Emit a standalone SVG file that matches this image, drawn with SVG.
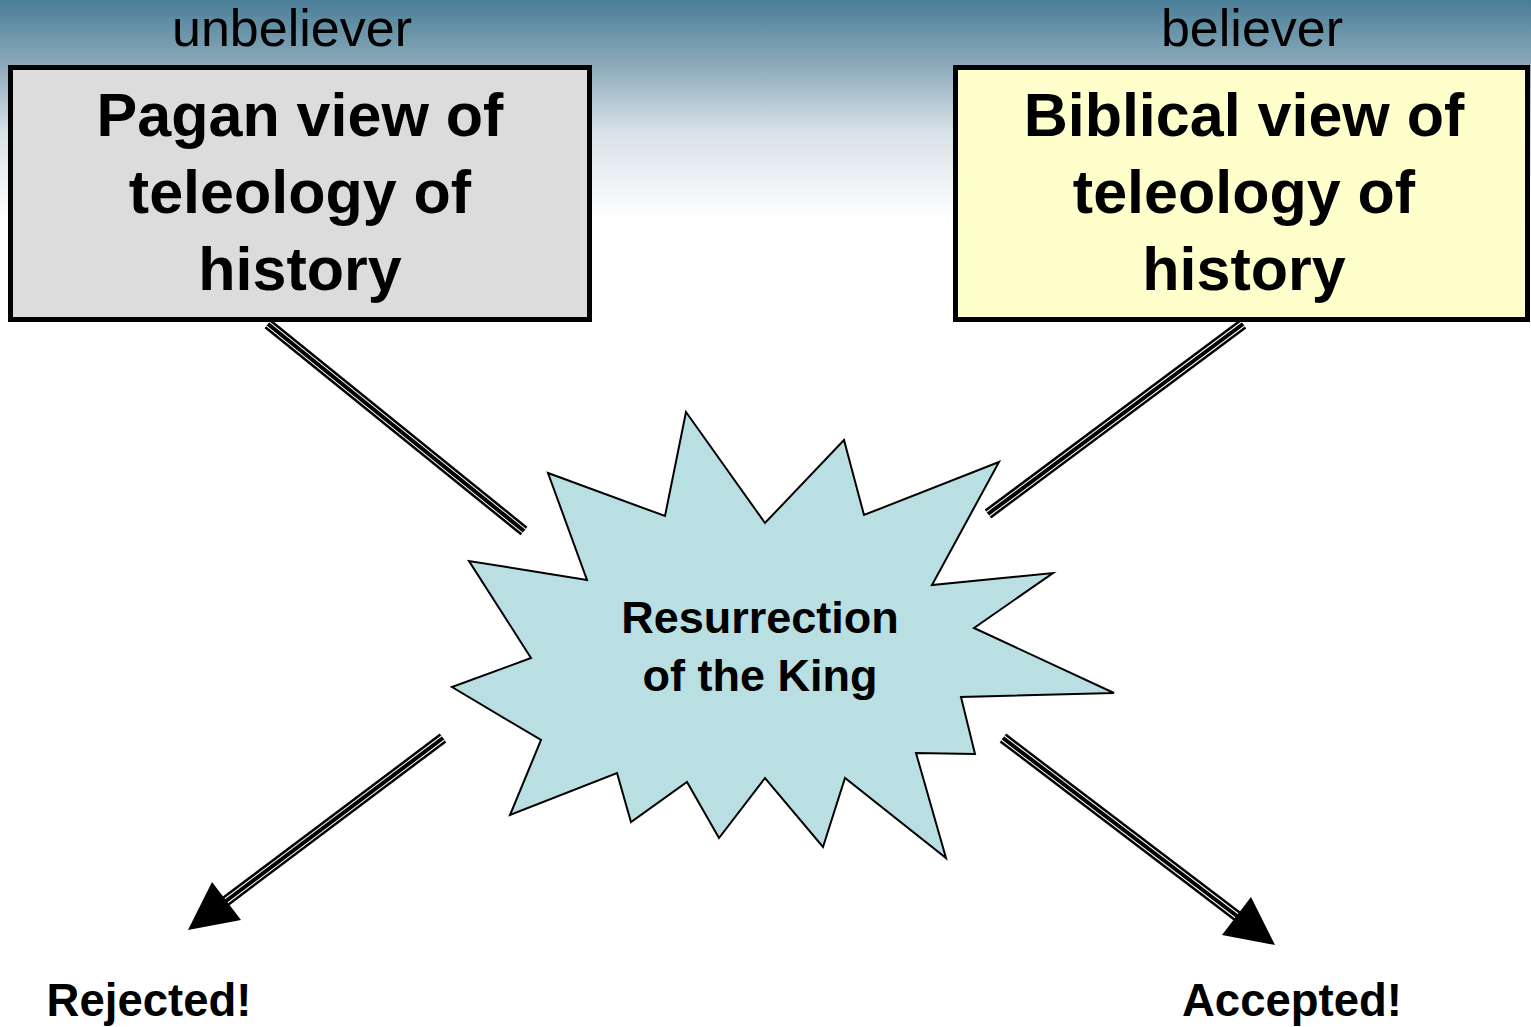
<svg xmlns="http://www.w3.org/2000/svg" width="1531" height="1027" viewBox="0 0 1531 1027">
<style>
.box{stroke:#000;stroke-width:5}
.big{font-family:"Liberation Sans",Arial,sans-serif;font-weight:bold;font-size:61px;text-anchor:middle;fill:#000}
.lbl{font-family:"Liberation Sans",Arial,sans-serif;font-size:52px;text-anchor:middle;fill:#000}
.mid{font-family:"Liberation Sans",Arial,sans-serif;font-weight:bold;font-size:45px;text-anchor:middle;fill:#000}
.out{font-family:"Liberation Sans",Arial,sans-serif;font-weight:bold;font-size:45.5px;text-anchor:middle;fill:#000}
.o{stroke:#000;stroke-width:11}
.g{stroke:#fff;stroke-width:6}
.c{stroke:#000;stroke-width:4}
</style>
<defs>
<linearGradient id="sky" x1="0" y1="0" x2="0" y2="1">
<stop offset="0" stop-color="#497e97"/>
<stop offset="0.3" stop-color="#8eabbb"/>
<stop offset="0.6" stop-color="#d8e2e8"/>
<stop offset="1" stop-color="#ffffff"/>
</linearGradient>
</defs>
<rect x="0" y="0" width="1531" height="1027" fill="#fff"/>
<rect x="0" y="0" width="1531" height="220" fill="url(#sky)"/>
<g id="connectors">
<g id="c1"><line class="o" x1="268" y1="324" x2="524" y2="531"/><line class="g" x1="268" y1="324" x2="524" y2="531"/><line class="c" x1="268" y1="324" x2="524" y2="531"/></g>
<g id="c2"><line class="o" x1="1243" y1="324" x2="988" y2="514"/><line class="g" x1="1243" y1="324" x2="988" y2="514"/><line class="c" x1="1243" y1="324" x2="988" y2="514"/></g>
<g id="c3"><line class="o" x1="443" y1="738" x2="226" y2="901"/><line class="g" x1="443" y1="738" x2="226" y2="901"/><line class="c" x1="443" y1="738" x2="226" y2="901"/><polygon points="188,930 212,882 241,920" fill="#000"/></g>
<g id="c4"><line class="o" x1="1003" y1="738" x2="1237" y2="916"/><line class="g" x1="1003" y1="738" x2="1237" y2="916"/><line class="c" x1="1003" y1="738" x2="1237" y2="916"/><polygon points="1275,945 1251,897 1222,935" fill="#000"/></g>
</g>
<g id="unbeliever"><text class="lbl" x="292" y="46">unbeliever</text></g>
<g id="believer"><text class="lbl" x="1252" y="46">believer</text></g>
<g id="pagan">
<rect class="box" x="10.5" y="67.5" width="579" height="252" fill="#dcdcdc"/>
<text class="big" x="300" y="136">Pagan view of</text>
<text class="big" x="300" y="213">teleology of</text>
<text class="big" x="300" y="290">history</text>
</g>
<g id="biblical">
<rect class="box" x="955.5" y="67.5" width="572" height="252" fill="#ffffcc"/>
<text class="big" x="1244" y="136">Biblical view of</text>
<text class="big" x="1244" y="213">teleology of</text>
<text class="big" x="1244" y="290">history</text>
</g>
<g id="resurrection">
<polygon points="686,412 765,523 844,440 864,515 999,462 932,585 1053,573 974,628 1114,693 961,697 975,754 916,753 946,858 845,778 823,847 765,778 719,838 687,782 631,822 617,773 510,815 541,740 452,687 531,658 469,561 587,580 548,473 665,516" fill="#b9dfe3" stroke="#000" stroke-width="2" stroke-linejoin="miter"/>
<text class="mid" x="760" y="633">Resurrection</text>
<text class="mid" x="760" y="691">of the King</text>
</g>
<g id="rejected"><text class="out" x="149" y="1016">Rejected!</text></g>
<g id="accepted"><text class="out" x="1292" y="1016">Accepted!</text></g>
</svg>
